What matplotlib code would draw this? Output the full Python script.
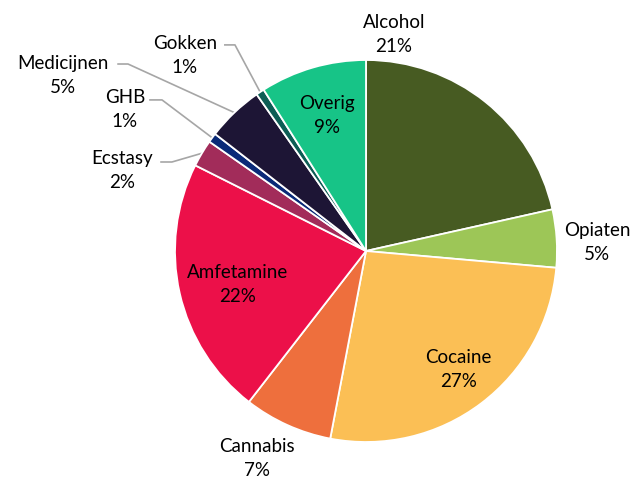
import matplotlib
matplotlib.use('Agg')
import matplotlib.pyplot as plt
import numpy as np

# verslavingen (aandeel %)
categories = ['Alcohol', 'Opiaten', 'Cocaine', 'Cannabis', 'Amfetamine',
              'Ecstasy', 'GHB', 'Medicijnen', 'Gokken', 'Overig']
values = [21.5, 4.9, 26.6, 7.5, 21.9, 2.3, 0.8, 4.8, 0.7, 9.0]
pct_labels = ['21%', '5%', '27%', '7%', '22%', '2%', '1%', '5%', '1%', '9%']

colors = ['#475B22', '#9DC657', '#FBBF55', '#EE6F3D', '#EC1049',
          '#A22C5A', '#0A2A78', '#1D1535', '#0D5D55', '#17C487']

plt.rcParams['font.family'] = ['Lato', 'DejaVu Sans']

fig = plt.figure(figsize=(6.37, 4.82), dpi=100)
ax = fig.add_axes([175 / 637, 40 / 482, 382 / 637, 382 / 482])

wedges, _ = ax.pie(values, colors=colors, startangle=90, counterclock=False,
                   radius=1, wedgeprops=dict(edgecolor='white', linewidth=1.3))
ax.set_xlim(-1, 1)
ax.set_ylim(-1, 1)
ax.set_aspect('equal')
ax.axis('off')

# label positions (data units, radius = 1)
label_pos = {
    'Alcohol': (0.147, 1.131),
    'Opiaten': (1.209, 0.047),
    'Cocaine': (0.482, -0.623),
    'Cannabis': (-0.571, -1.089),
    'Amfetamine': (-0.670, -0.178),
    'Ecstasy': (-1.277, 0.424),
    'GHB': (-1.262, 0.743),
    'Medicijnen': (-1.586, 0.921),
    'Gokken': (-0.948, 1.026),
    'Overig': (-0.204, 0.712),
}
for cat, pct in zip(categories, pct_labels):
    x, y = label_pos[cat]
    ax.text(x, y, cat + '\n' + pct, ha='center', va='center', fontsize=13.5,
            linespacing=1.5, color='#000000', clip_on=False)

# leader lines for the small slices
leaders = {
    'Gokken': (-0.739, -0.686, 1.079),
    'Medicijnen': (-1.298, -1.246, 0.979),
    'GHB': (-1.131, -1.068, 0.791),
    'Ecstasy': (-1.073, -1.016, 0.466),
}
for cat, (x0, x1, y0) in leaders.items():
    w = wedges[categories.index(cat)]
    ang = np.deg2rad((w.theta1 + w.theta2) / 2)
    ex, ey = np.cos(ang), np.sin(ang)
    ax.plot([x0, x1, ex], [y0, y0, ey], color='#A6A6A6', lw=1.2,
            clip_on=False, zorder=0)

fig.savefig('out.png', dpi=100)
